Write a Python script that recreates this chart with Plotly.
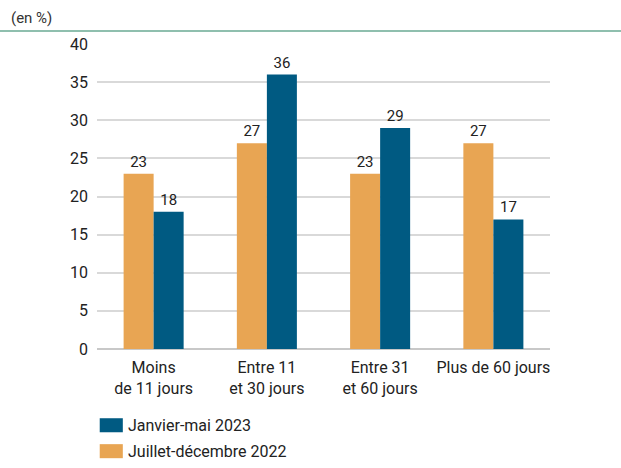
import plotly.graph_objects as go

categories = ["Moins<br>de 11 jours", "Entre 11<br>et 30 jours", "Entre 31<br>et 60 jours", "Plus de 60 jours"]
juil_dec_2022 = [23, 27, 23, 27]
janv_mai_2023 = [18, 36, 29, 17]
y_ticks = [0, 5, 10, 15, 20, 25, 30, 35, 40]

ORANGE = "#E8A553"
BLUE = "#005A82"
FONT = "Roboto, Arial, sans-serif"

fig = go.Figure()
fig.add_trace(go.Bar(
    x=categories, y=juil_dec_2022, name="Juillet-décembre 2022",
    marker=dict(color=ORANGE, line=dict(width=0)),
    text=juil_dec_2022, textposition="outside", cliponaxis=False,
    textfont=dict(size=15, color="#222222", family=FONT),
))
fig.add_trace(go.Bar(
    x=categories, y=janv_mai_2023, name="Janvier-mai 2023",
    marker=dict(color=BLUE, line=dict(width=0)),
    text=janv_mai_2023, textposition="outside", cliponaxis=False,
    textfont=dict(size=15, color="#222222", family=FONT),
))

fig.update_layout(
    width=621, height=468,
    margin=dict(l=97, r=71, t=44, b=119),
    paper_bgcolor="white", plot_bgcolor="white",
    barmode="group", bargap=0.47, bargroupgap=0,
    showlegend=False,
    font=dict(family=FONT, size=15, color="#222222"),
    uniformtext=dict(mode="show", minsize=15),
)
fig.update_xaxes(showgrid=False, showline=False, ticks="", tickfont=dict(size=16),
                 ticklabelstandoff=7)
fig.update_yaxes(
    range=[0, 40], tickvals=y_ticks, showgrid=True, gridcolor="#D9D9D9", gridwidth=1.5,
    zeroline=True, zerolinecolor="#C8C8C8", zerolinewidth=1.5, ticks="", ticklabelstandoff=8,
    tickfont=dict(size=16),
)

# Unit header and rule across the top
fig.add_annotation(text="(en %)", xref="paper", yref="paper", x=-0.195, y=1.085,
                   xanchor="left", yanchor="middle", showarrow=False,
                   font=dict(size=15, color="#333333"))
fig.add_shape(type="line", xref="paper", yref="paper", x0=-0.22, x1=1.2, y0=1.043, y1=1.043,
              line=dict(color="#8FBFAE", width=2))

# Legend drawn beneath the chart
legend_items = [("Janvier-mai 2023", BLUE, -0.25), ("Juillet-décembre 2022", ORANGE, -0.335)]
for label, color, ypos in legend_items:
    fig.add_shape(type="rect", xref="paper", yref="paper", x0=0.006, x1=0.057,
                  y0=ypos - 0.023, y1=ypos + 0.023, fillcolor=color, line=dict(width=0))
    fig.add_annotation(text=label, xref="paper", yref="paper", x=0.064, y=ypos,
                       xanchor="left", yanchor="middle", showarrow=False,
                       font=dict(size=16, color="#222222"))

fig.write_html("out.html")
